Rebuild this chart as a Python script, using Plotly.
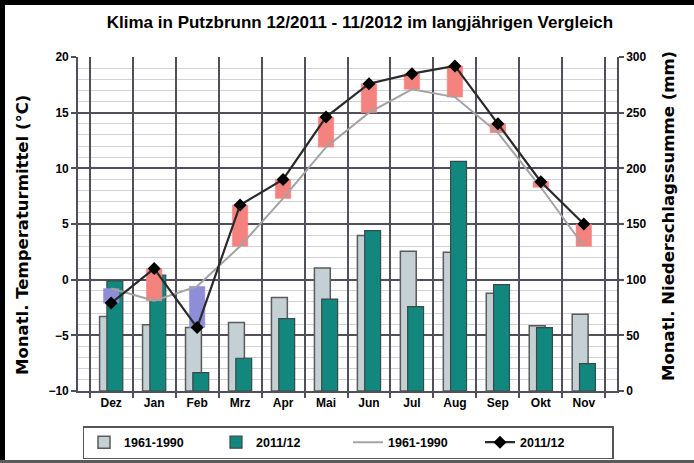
import plotly.graph_objects as go

months = ["Dez", "Jan", "Feb", "Mrz", "Apr", "Mai", "Jun", "Jul", "Aug", "Sep", "Okt", "Nov"]
precip_normal = [67, 59.5, 57, 61.5, 84, 110.5, 139.6, 125.5, 124.6, 87.7, 58.6, 69]
precip_2012 = [99, 104, 16.5, 29.4, 65, 82.6, 144, 75.7, 206.3, 95.5, 57, 24.6]
temp_normal = [-0.8, -1.9, -0.6, 3.0, 7.3, 11.9, 15.0, 17.1, 16.4, 13.2, 8.3, 3.0]
temp_2012 = [-2.1, 1.0, -4.3, 6.7, 9.0, 14.6, 17.6, 18.5, 19.2, 14.0, 8.8, 5.0]

FONT = "Liberation Sans"
DARK = "#50505a"
W, H = 694, 463
ML, MR, MT, MB = 78, 77, 57, 72
PW, PH = W - ML - MR, H - MT - MB

diff = [a - n for a, n in zip(temp_2012, temp_normal)]
diff_colors = ["#f4837f" if d >= 0 else "#8e8ed8" for d in diff]

fig = go.Figure()

# precipitation bars (base axis, right side)
fig.add_trace(go.Bar(
    x=months, y=precip_normal, name="1961-1990", yaxis="y",
    width=0.37, offset=-0.27,
    marker=dict(color="#c4d0d4", line=dict(color="#5a5a5a", width=1.5)),
))
fig.add_trace(go.Bar(
    x=months, y=precip_2012, name="2011/12", yaxis="y",
    width=0.37, offset=-0.10,
    marker=dict(color="#12877e", line=dict(color="#3a4a48", width=1.2)),
))

# temperature difference rectangles
fig.add_trace(go.Bar(
    x=months, y=diff, base=temp_normal, yaxis="y2", showlegend=False,
    width=0.36, offset=-0.18,
    marker=dict(color=diff_colors, line=dict(color=diff_colors, width=0.5)),
    hoverinfo="skip",
))

# temperature lines
fig.add_trace(go.Scatter(
    x=months, y=temp_normal, name="1961-1990", yaxis="y2", mode="lines",
    line=dict(color="#a3a3a3", width=2),
))
fig.add_trace(go.Scatter(
    x=months, y=temp_2012, name="2011/12", yaxis="y2", mode="lines+markers",
    line=dict(color="#2a2a2a", width=2.2),
    marker=dict(symbol="diamond", size=10, color="black"),
))

tickfont = dict(family=FONT, size=12, color="black", weight="bold")
axtitlefont = dict(family="DejaVu Sans", size=16.5, color="black", weight="bold")

def px_x(px):
    return (px - ML) / PW

def px_y(py):
    return (H - MB - py) / PH

fig.update_layout(
    width=W, height=H,
    margin=dict(l=ML, r=MR, t=MT, b=MB, autoexpand=False),
    paper_bgcolor="white", plot_bgcolor="white",
    barmode="overlay",
    showlegend=True,
    title=dict(
        text="Klima in Putzbrunn 12/2011 - 11/2012 im langjährigen Vergleich",
        font=dict(family=FONT, size=17, color="black", weight="bold"),
        x=360 / W, xref="container", xanchor="center",
        y=1 - 22 / H, yref="container", yanchor="middle",
    ),
    xaxis=dict(
        type="category", tickson="boundaries", automargin=False,
        showgrid=True, gridcolor=DARK, gridwidth=1.6,
        showline=True, linecolor=DARK, linewidth=1.6,
        ticks="outside", ticklen=5, tickcolor=DARK, tickwidth=1.5,
        tickfont=tickfont, fixedrange=True,
    ),
    yaxis=dict(
        side="right", range=[0, 300], dtick=50, automargin=False,
        showgrid=True, gridcolor=DARK, gridwidth=1.6,
        minor=dict(dtick=10, showgrid=True, gridcolor="#d2d2d6", gridwidth=1),
        showline=True, linecolor=DARK, linewidth=1.6,
        ticks="outside", ticklen=5, tickcolor=DARK, tickwidth=1.5,
        tickfont=tickfont, zeroline=False,
    ),
    yaxis2=dict(
        overlaying="y", side="left", range=[-10, 20], dtick=5, automargin=False,
        showgrid=False, zeroline=False,
        showline=True, linecolor=DARK, linewidth=1.6,
        ticks="outside", ticklen=5, tickcolor=DARK, tickwidth=1.5,
        tickfont=tickfont,
    ),
    legend=dict(
        orientation="h", x=px_x(348), xanchor="center", y=px_y(426), yanchor="top",
        bordercolor="#555555", borderwidth=1.5, bgcolor="white",
        font=dict(family=FONT, size=12.5, color="black", weight="bold"),
        traceorder="normal", entrywidth=87, entrywidthmode="pixels",
        itemwidth=30, tracegroupgap=0,
    ),
    annotations=[
        dict(text="Monatl. Temperaturmittel (°C)", textangle=-90,
             xref="paper", yref="paper", x=px_x(22), y=px_y(235),
             xanchor="center", yanchor="middle", showarrow=False, font=axtitlefont),
        dict(text="Monatl. Niederschlagssumme (mm)", textangle=-90,
             xref="paper", yref="paper", x=px_x(668), y=px_y(216),
             xanchor="center", yanchor="middle", showarrow=False, font=axtitlefont),
    ],
    shapes=[
        dict(type="rect", xref="paper", yref="paper",
             x0=px_x(0), x1=px_x(5), y0=px_y(H), y1=px_y(0),
             fillcolor="black", line=dict(width=0), layer="above"),
        dict(type="rect", xref="paper", yref="paper",
             x0=px_x(0), x1=px_x(W), y0=px_y(5), y1=px_y(0),
             fillcolor="black", line=dict(width=0), layer="above"),
        dict(type="rect", xref="paper", yref="paper",
             x0=px_x(0), x1=px_x(W), y0=px_y(H), y1=px_y(460),
             fillcolor="#5a5a5a", line=dict(width=0), layer="above"),
    ],
)

fig.write_html(
    "out.html",
    config={"displayModeBar": False},
    post_script="document.body.style.margin='0';document.body.style.overflow='hidden';",
)
